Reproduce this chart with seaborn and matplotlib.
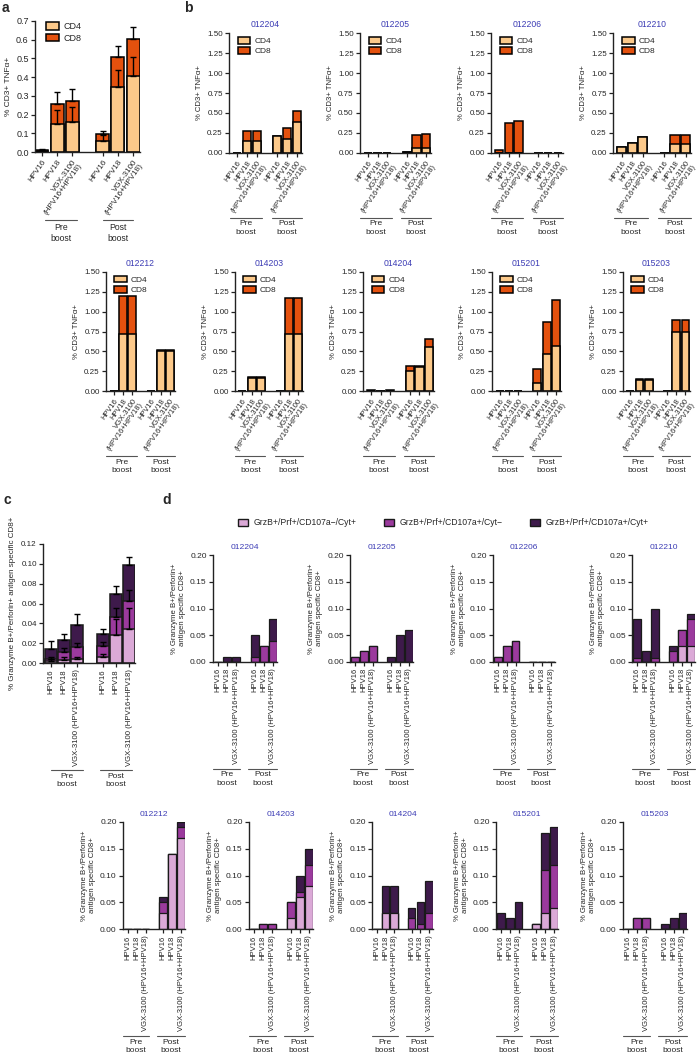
import numpy as np
import pandas as pd
import matplotlib
matplotlib.use("Agg")
import matplotlib.pyplot as plt
import matplotlib.transforms as mtransforms
from matplotlib.lines import Line2D
from matplotlib.patches import Patch
import seaborn as sns

sns.set_theme(style="ticks")
plt.rcParams["font.family"] = ["Liberation Sans", "DejaVu Sans"]

# ---------------- data ----------------
SLOTS = ["pre16", "pre18", "preVGX", "gap", "post16", "post18", "postVGX"]
PRESENT = ["pre16", "pre18", "preVGX", "post16", "post18", "postVGX"]
labels_ab = ["HPV16", "HPV18", "VGX-3100\n(HPV16+HPV18)"]
labels_cd = ["HPV16", "HPV18", "VGX-3100 (HPV16+HPV18)"]
patients = ["012204", "012205", "012206", "012210", "012212",
            "014203", "014204", "015201", "015203"]

# panel a (mean CD4 / CD8 segments and upper error)
a_cd4 = [0.005, 0.15, 0.16, 0.06, 0.345, 0.405]
a_cd8 = [0.007, 0.106, 0.115, 0.036, 0.16, 0.197]
a_cd4_err = [0.0, 0.077, 0.078, 0.029, 0.095, 0.10]
a_cd8_err = [0.006, 0.062, 0.062, 0.018, 0.06, 0.066]

# panel b (per patient CD4 / CD8)
b_cd4 = [
    [0, 0.15, 0.15, 0.21, 0.18, 0.39],
    [0, 0, 0, 0.01, 0.06, 0.06],
    [0.005, 0, 0, 0, 0, 0],
    [0.07, 0.12, 0.20, 0, 0.11, 0.11],
    [0, 0.72, 0.72, 0, 0.50, 0.50],
    [0, 0.17, 0.17, 0, 0.72, 0.72],
    [0.005, 0, 0.005, 0.25, 0.30, 0.56],
    [0, 0, 0, 0.10, 0.47, 0.57],
    [0, 0.14, 0.14, 0, 0.75, 0.75],
]
b_cd8 = [
    [0, 0.12, 0.12, 0.005, 0.13, 0.14],
    [0, 0, 0, 0.005, 0.17, 0.18],
    [0.03, 0.37, 0.40, 0, 0, 0],
    [0, 0, 0, 0, 0.12, 0.12],
    [0, 0.48, 0.48, 0, 0.02, 0.02],
    [0, 0.01, 0.01, 0, 0.45, 0.45],
    [0.005, 0, 0.005, 0.07, 0.01, 0.09],
    [0, 0, 0, 0.18, 0.40, 0.58],
    [0, 0.01, 0.01, 0, 0.15, 0.15],
]

# panel c (mean segments and upper errors)
c_light = [0.002, 0.003, 0.004, 0.006, 0.0285, 0.0345]
c_mid = [0.002, 0.008, 0.012, 0.011, 0.0175, 0.0285]
c_dark = [0.0105, 0.0125, 0.022, 0.012, 0.024, 0.036]
c_light_err = [0.002, 0.003, 0.002, 0.0035, 0.0155, 0.0205]
c_mid_err = [0.002, 0.004, 0.004, 0.004, 0.009, 0.011]
c_dark_err = [0.0075, 0.0055, 0.011, 0.005, 0.008, 0.008]

# panel d (per patient segments)
d_light = [
    [0, 0, 0, 0, 0, 0],
    [0, 0, 0, 0, 0, 0],
    [0, 0, 0, 0, 0, 0],
    [0, 0, 0, 0, 0.03, 0.03],
    [0, 0, 0, 0.03, 0.14, 0.17],
    [0, 0, 0, 0.02, 0.06, 0.08],
    [0, 0.03, 0.03, 0, 0, 0],
    [0, 0, 0, 0.01, 0.03, 0.04],
    [0, 0, 0, 0, 0, 0],
]
d_mid = [
    [0, 0, 0, 0.01, 0.03, 0.04],
    [0.01, 0.02, 0.03, 0, 0, 0],
    [0.01, 0.03, 0.04, 0, 0, 0],
    [0.007, 0, 0.007, 0.02, 0.03, 0.05],
    [0, 0, 0, 0.02, 0, 0.02],
    [0, 0.01, 0.01, 0.03, 0.01, 0.04],
    [0, 0, 0, 0.02, 0.01, 0.03],
    [0, 0, 0, 0, 0.08, 0.08],
    [0, 0.02, 0.02, 0, 0, 0],
]
d_dark = [
    [0, 0.01, 0.01, 0.04, 0, 0.04],
    [0, 0, 0, 0.01, 0.05, 0.06],
    [0, 0, 0, 0, 0, 0],
    [0.073, 0.02, 0.093, 0.01, 0, 0.01],
    [0, 0, 0, 0.01, 0, 0.01],
    [0, 0, 0, 0, 0.03, 0.03],
    [0, 0.05, 0.05, 0.02, 0.04, 0.06],
    [0.03, 0.02, 0.05, 0, 0.07, 0.07],
    [0, 0, 0, 0.01, 0.02, 0.03],
]

legend_d = ["GrzB+/Prf+/CD107a\u2212/Cyt+", "GrzB+/Prf+/CD107a+/Cyt\u2212",
            "GrzB+/Prf+/CD107a+/Cyt+"]

# ---------------- style ----------------
CD4_C = "#FCC98A"
CD8_C = "#E4510E"
PURPLES = ["#DBA9D7", "#9B3A9D", "#3E1A4B"]
TITLE_C = "#3D3DB5"
SPINE_C = "#222222"

W, H = 700, 1058
fig = plt.figure(figsize=(7, 10.58), dpi=100)


def px_axes(l, t, r, b):
    return fig.add_axes([l / W, 1 - b / H, (r - l) / W, (b - t) / H])


def draw_stack(ax, segments, colors, errs=None, width=0.85, lw=1.1, edge="black"):
    segs = np.array(segments, float)
    cum = np.cumsum(segs, axis=0)
    for lvl in range(len(segs) - 1, -1, -1):
        df = pd.DataFrame({"slot": PRESENT, "value": cum[lvl]})
        sns.barplot(data=df, x="slot", y="value", order=SLOTS, color=colors[lvl],
                    saturation=1, edgecolor=edge, linewidth=lw, width=width,
                    errorbar=None, ax=ax)
    if errs is not None:
        pos = [SLOTS.index(s) for s in PRESENT]
        for lvl in range(len(segs)):
            e = np.array(errs[lvl], float)
            m = e > 0
            ax.errorbar(np.array(pos)[m], cum[lvl][m],
                        yerr=[np.zeros(m.sum()), e[m]], fmt="none",
                        ecolor="black", elinewidth=1.0, capsize=2.2,
                        capthick=1.0, zorder=5)


def style(ax, ylim, yticks, fmt, xlim, xlabels, rot, xfs=5.0, yfs=5.5):
    ax.set_xlim(*xlim)
    ax.set_ylim(*ylim)
    ax.set_yticks(yticks)
    ax.set_yticklabels([fmt.format(v) for v in yticks], fontsize=yfs)
    pos = [SLOTS.index(s) for s in PRESENT]
    ax.set_xticks(pos)
    if rot == 90:
        ax.set_xticklabels(xlabels * 2, rotation=90, ha="right", va="center",
                           rotation_mode="anchor", fontsize=xfs)
    else:
        ax.set_xticklabels(xlabels * 2, rotation=rot, ha="right",
                           rotation_mode="anchor", fontsize=xfs,
                           multialignment="right", linespacing=0.95)
    ax.set_xlabel("")
    sns.despine(ax=ax)
    for s in ("left", "bottom"):
        ax.spines[s].set_linewidth(1.0)
        ax.spines[s].set_color(SPINE_C)
    ax.tick_params(axis="both", direction="out", length=3, width=0.9,
                   pad=1.5, color=SPINE_C)


def groups(ax, below_px, pre, post, fs=6):
    hpx = ax.get_position().height * H
    trans = mtransforms.blended_transform_factory(ax.transData, ax.transAxes)
    y = -below_px / hpx
    for (x0, x1), txt in ((pre, "Pre\nboost"), (post, "Post\nboost")):
        ax.add_line(Line2D([x0, x1], [y, y], transform=trans, clip_on=False,
                           color="#555555", lw=0.8))
        ax.text((x0 + x1) / 2, y - 2.5 / hpx, txt, transform=trans,
                ha="center", va="top", fontsize=fs, linespacing=1.3,
                clip_on=False)


def cd_legend(ax, anchor, fs):
    h = [Patch(facecolor=CD4_C, edgecolor="black", linewidth=1.1, label="CD4"),
         Patch(facecolor=CD8_C, edgecolor="black", linewidth=1.1, label="CD8")]
    ax.legend(handles=h, loc="upper left", bbox_to_anchor=anchor, frameon=False,
              fontsize=fs, handlelength=1.5, handleheight=0.9, labelspacing=0.25,
              borderpad=0, handletextpad=0.5, borderaxespad=0)


# ---------------- panel a ----------------
ax = px_axes(35, 21, 140, 152)
draw_stack(ax, [a_cd4, a_cd8], [CD4_C, CD8_C], errs=[a_cd4_err, a_cd8_err])
style(ax, (0, 0.7), np.round(np.arange(0, 0.71, 0.1), 2), "{:.1f}",
      (-0.45, 6.45), labels_ab, 55, xfs=5.8, yfs=6.5)
ax.set_ylabel("% CD3+ TNF\u03b1+", fontsize=6, labelpad=3)
cd_legend(ax, (0.1, 0.99), 6.5)
groups(ax, 68, (0.2, 2.3), (4.0, 6.0), fs=6.2)

# ---------------- panel b ----------------
b_top_l = [229, 360, 491, 613]
b_top_r = [302, 431, 563, 691]
b_bot_l = [106, 235, 363, 492, 623]
b_bot_r = [175, 303, 434, 561, 690]
b_boxes = [(l, 33, r, 153) for l, r in zip(b_top_l, b_top_r)] + \
          [(l, 272, r, 391) for l, r in zip(b_bot_l, b_bot_r)]
for i, pid in enumerate(patients):
    ax = px_axes(*b_boxes[i])
    draw_stack(ax, [b_cd4[i], b_cd8[i]], [CD4_C, CD8_C])
    style(ax, (0, 1.5), np.arange(0, 1.51, 0.25), "{:.2f}",
          (-0.8, 6.5), labels_ab, 55, xfs=5.4, yfs=5.8)
    ax.set_ylabel("% CD3+ TNF\u03b1+", fontsize=5.6, labelpad=3)
    ax.set_title(pid, color=TITLE_C, fontsize=6.2, pad=4)
    cd_legend(ax, (0.12, 0.97), 6)
    groups(ax, 65, (-0.75, 2.45), (3.45, 6.5))

# ---------------- panel c ----------------
ax = px_axes(43, 544, 135, 663)
draw_stack(ax, [c_light, c_mid, c_dark], PURPLES,
           errs=[c_light_err, c_mid_err, c_dark_err], width=0.88, lw=1.1,
           edge="#1a1a1a")
style(ax, (0, 0.12), np.round(np.arange(0, 0.121, 0.02), 2), "{:.2f}",
      (-0.6, 6.45), labels_cd, 90, xfs=5.6, yfs=5.8)
ax.set_ylabel("% Granzyme B+/Perforin+ antigen specific CD8+", fontsize=5.8,
              labelpad=4)
groups(ax, 107, (0.0, 2.45), (3.8, 6.2))

# ---------------- panel d ----------------
d_top_l = [213, 350, 493, 632]
d_top_r = [277, 413, 555, 695]
d_bot_l = [123, 249, 372, 496, 623]
d_bot_r = [185, 313, 433, 558, 687]
d_boxes = [(l, 555, r, 662) for l, r in zip(d_top_l, d_top_r)] + \
          [(l, 822, r, 929) for l, r in zip(d_bot_l, d_bot_r)]
for i, pid in enumerate(patients):
    ax = px_axes(*d_boxes[i])
    draw_stack(ax, [d_light[i], d_mid[i], d_dark[i]], PURPLES, width=0.88,
               lw=0.9, edge="#1a1a1a")
    style(ax, (0, 0.2), np.round(np.arange(0, 0.201, 0.05), 2), "{:.2f}",
          (-0.55, 6.45), labels_cd, 90, xfs=5.5, yfs=6)
    ax.set_ylabel("% Granzyme B+/Perforin+\nantigen specific CD8+",
                  fontsize=5.6, labelpad=3, linespacing=1.1)
    ax.set_title(pid, color=TITLE_C, fontsize=6.1, pad=4)
    groups(ax, 107, (-0.55, 2.4), (3.3, 6.45))

handles_d = [Patch(facecolor=c, edgecolor="#1a1a1a", linewidth=1.0, label=t)
             for c, t in zip(PURPLES, legend_d)]
fig.legend(handles=handles_d, loc="center", ncol=3,
           bbox_to_anchor=(443 / W, 1 - 523 / H), frameon=False, fontsize=6.2,
           handlelength=1.2, handleheight=0.9, columnspacing=3.2,
           handletextpad=0.6)

# ---------------- panel letters ----------------
for txt, (x, y) in {"a": (2, 8), "b": (184, 8), "c": (3, 500), "d": (162, 500)}.items():
    fig.text(x / W, 1 - y / H, txt, fontsize=10, fontweight="bold",
             ha="left", va="center")

fig.savefig("out.png", dpi=100)
